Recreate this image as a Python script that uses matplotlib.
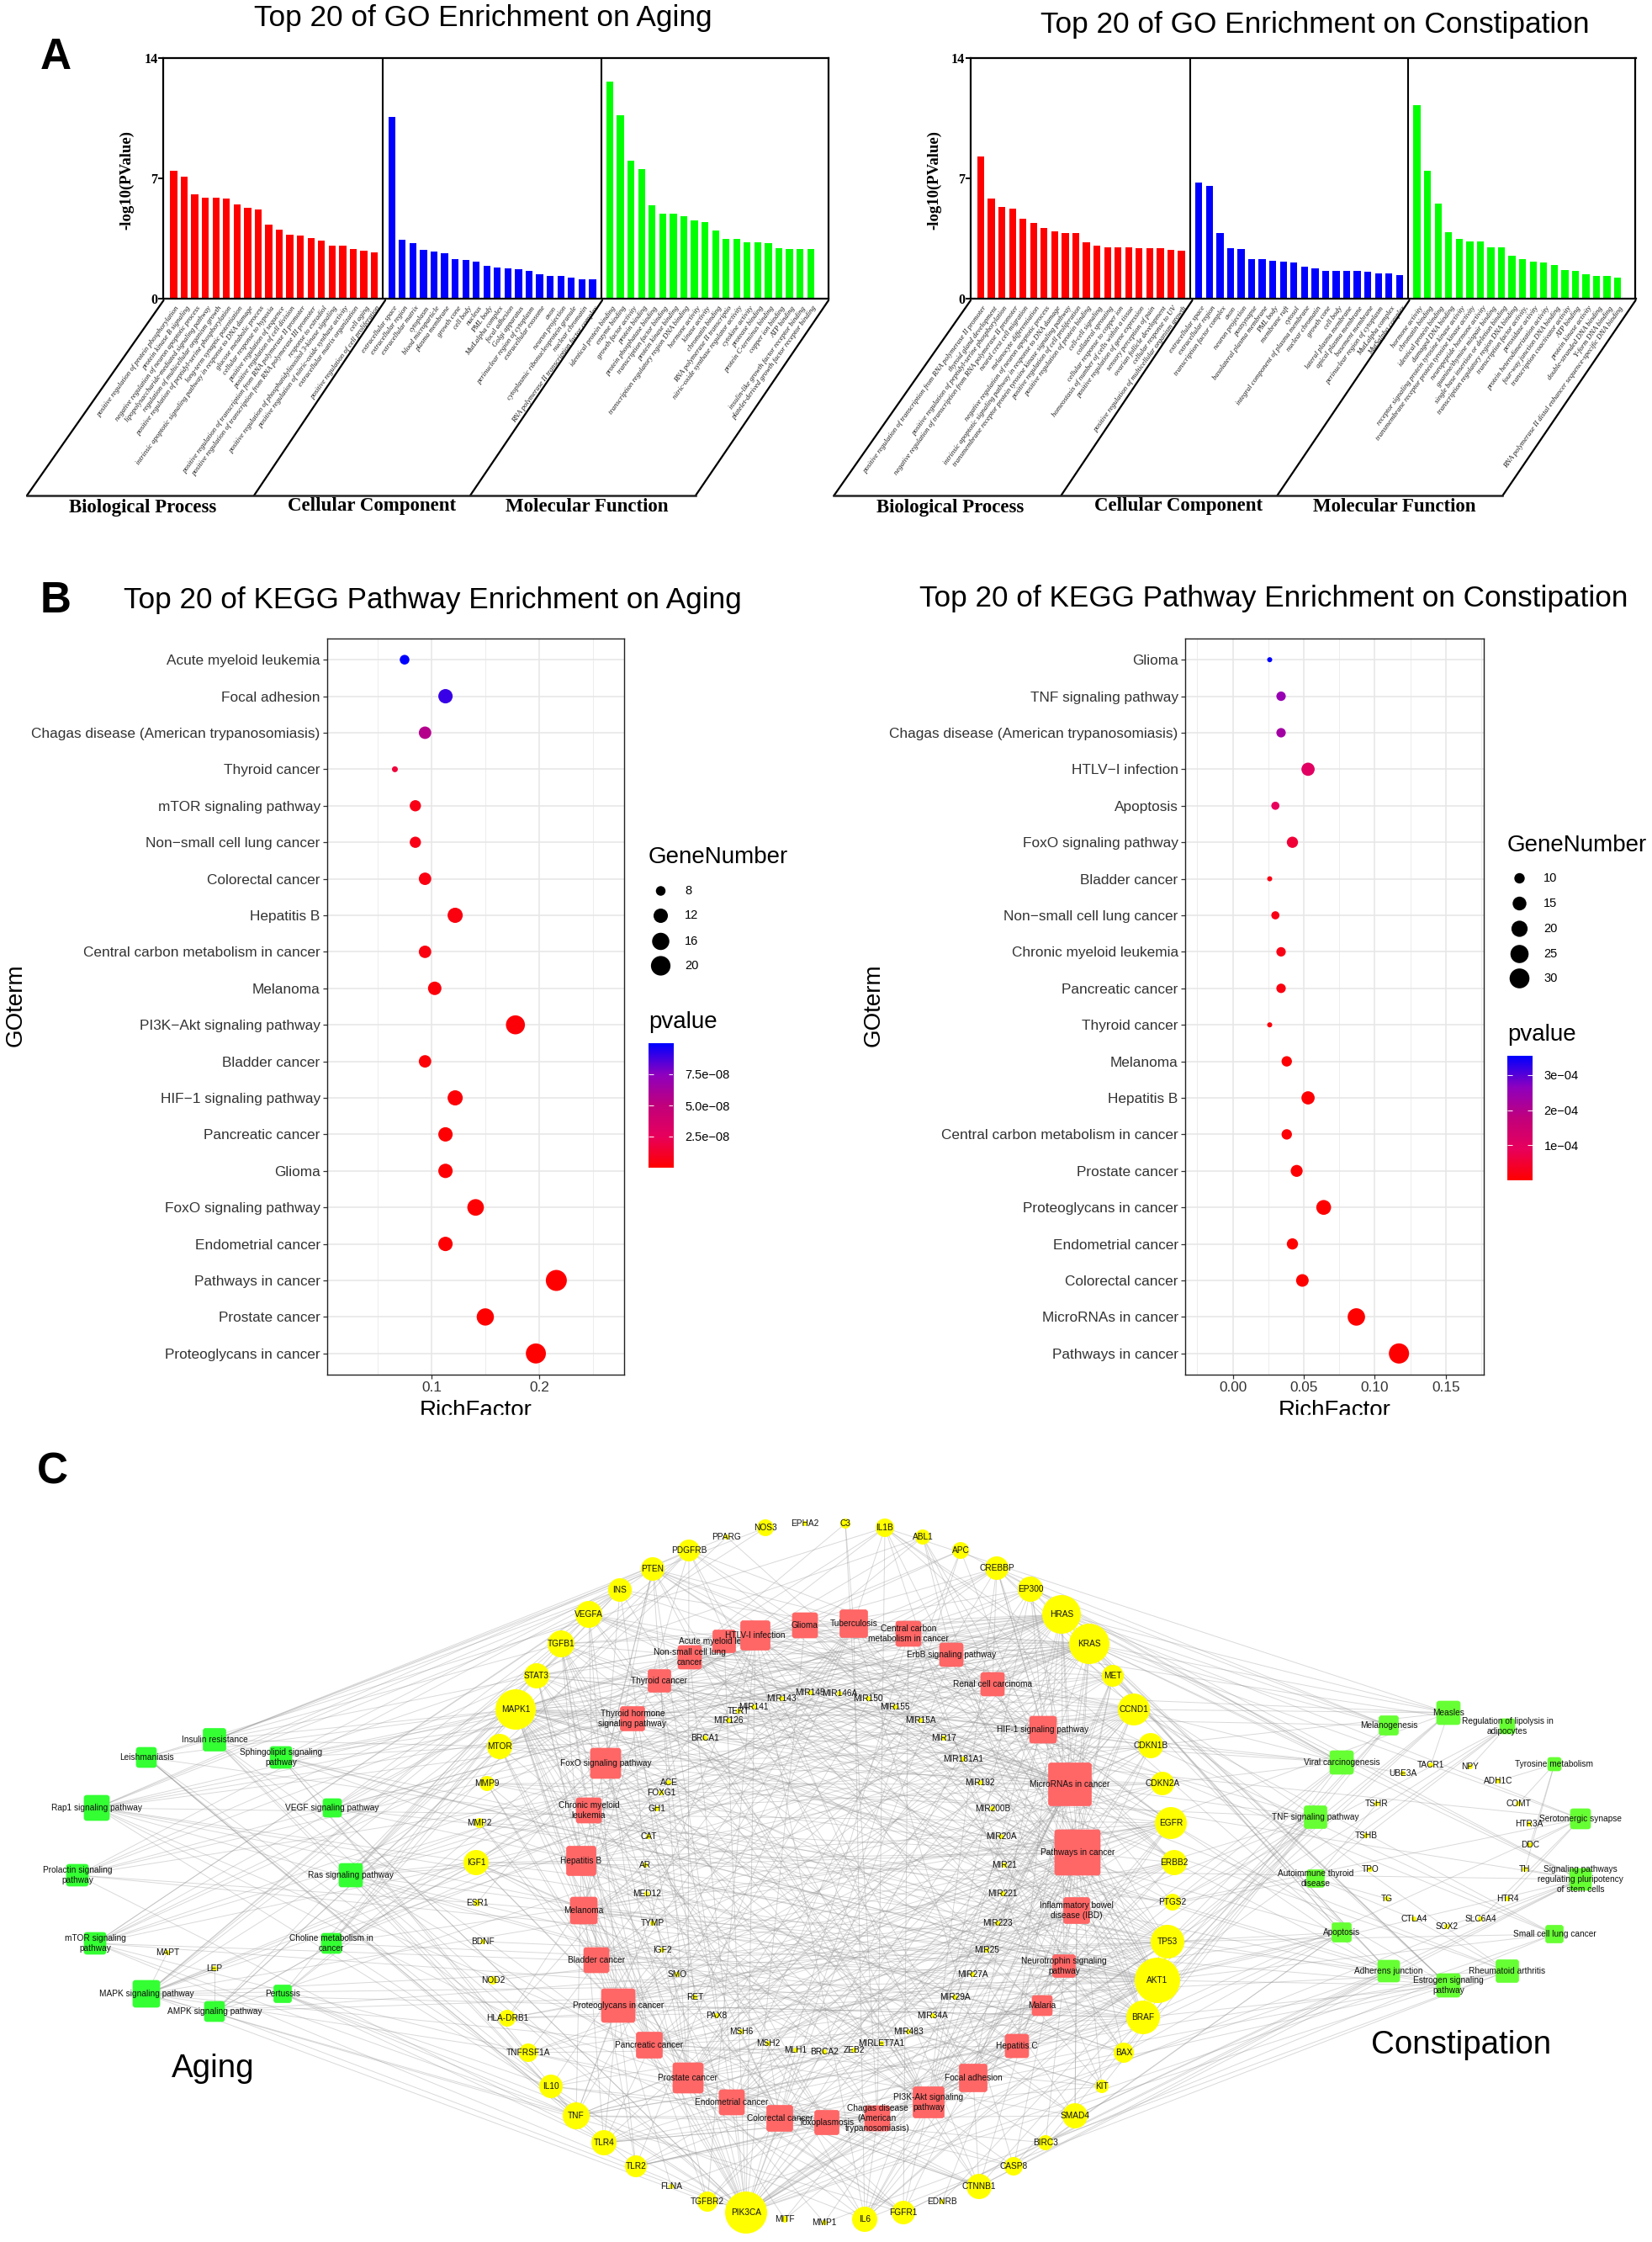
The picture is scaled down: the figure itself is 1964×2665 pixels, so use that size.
"""Enrichment figure: GO bars (A), KEGG dot plots (B) and the pathway-gene network (C)."""

import matplotlib

matplotlib.use("Agg")
import matplotlib.pyplot as plt
import numpy as np
from matplotlib.collections import LineCollection
from matplotlib.colors import LinearSegmentedColormap
from matplotlib.patches import Circle, FancyBboxPatch, Rectangle

W, H = 1965, 2665
SANS = "Liberation Sans"
SERIF = "Liberation Serif"

# ── A: GO bars ────────────────────────────────────────────────────────────────
GO_AGING_BP = [7.44, 7.1, 6.08, 5.88, 5.88, 5.82, 5.5, 5.28, 5.2, 4.32, 4.0, 3.72, 3.66, 3.52, 3.36, 3.1, 3.06, 2.88, 2.8, 2.7]
GO_AGING_CC = [10.56, 3.44, 3.24, 2.84, 2.72, 2.66, 2.28, 2.24, 2.16, 1.9, 1.8, 1.76, 1.7, 1.62, 1.4, 1.32, 1.3, 1.22, 1.14, 1.12]
GO_AGING_MF = [12.64, 10.68, 8.02, 7.54, 5.42, 4.96, 4.96, 4.82, 4.56, 4.46, 3.96, 3.5, 3.46, 3.28, 3.26, 3.24, 2.94, 2.9, 2.88, 2.88]
GO_CONST_BP = [8.26, 5.82, 5.34, 5.22, 4.66, 4.42, 4.12, 3.92, 3.8, 3.8, 3.28, 3.06, 3.0, 3.0, 2.98, 2.92, 2.92, 2.92, 2.86, 2.8]
GO_CONST_CC = [6.76, 6.58, 3.8, 2.92, 2.88, 2.28, 2.28, 2.2, 2.16, 2.1, 1.86, 1.74, 1.62, 1.6, 1.6, 1.6, 1.56, 1.48, 1.48, 1.36]
GO_CONST_MF = [11.28, 7.44, 5.52, 3.88, 3.48, 3.32, 3.32, 2.98, 2.98, 2.5, 2.28, 2.16, 2.1, 1.96, 1.68, 1.62, 1.44, 1.32, 1.3, 1.24]

GO_AGING_LABELS = [
    "positive regulation of protein phosphorylation", "protein kinase B signaling",
    "negative regulation of neuron apoptotic process", "lipopolysaccharide-mediated signaling pathway",
    "regulation of multicellular organism growth", "positive regulation of peptidyl-serine phosphorylation",
    "long-term synaptic potentiation", "intrinsic apoptotic signaling pathway in response to DNA damage",
    "glucose metabolic process", "cellular response to hypoxia", "positive regulation of sequence",
    "positive regulation of cell division", "positive regulation of transcription from RNA polymerase II promoter",
    "positive regulation of transcription from RNA polymerase III promoter", "response to estradiol",
    "positive regulation of phosphatidylinositol 3-kinase signaling",
    "positive regulation of nitric-oxide synthase activity", "extracellular matrix organization", "cell aging",
    "positive regulation of cell proliferation",
    "extracellular space", "extracellular region", "extracellular matrix", "cytoplasm", "blood microparticle",
    "plasma membrane", "growth cone", "cell body", "nucleus", "PML body", "MutLalpha complex", "focal adhesion",
    "Golgi apparatus", "perinuclear region of cytoplasm", "extracellular exosome", "axon", "neuron projection",
    "cytoplasmic ribonucleoprotein granule", "nuclear chromatin", "RNA polymerase II transcription factor complex",
    "identical protein binding", "enzyme binding", "growth factor activity", "protein binding",
    "protein phosphatase binding", "transcription factor binding", "protein kinase binding",
    "transcription regulatory region DNA binding", "hormone activity", "kinase activity", "chromatin binding",
    "RNA polymerase II transcriptio", "nitric-oxide synthase regulator activity", "cytokine activity",
    "protease binding", "protein C-terminus binding", "copper ion binding", "ATP binding",
    "insulin-like growth factor receptor binding", "platelet-derived growth factor receptor binding",
]
GO_CONST_LABELS = [
    "positive regulation of transcription from RNA polymerase II promoter", "thyroid gland development",
    "positive regulation of peptidyl-serine phosphorylation",
    "negative regulation of transcription from RNA polymerase II promoter", "neural crest cell migration",
    "melanocyte differentiation", "negative regulation of neuron apoptotic process",
    "intrinsic apoptotic signaling pathway in response to DNA damage",
    "transmembrane receptor protein tyrosine kinase signaling pathway", "positive regulation of cell proliferation",
    "positive regulation of protein binding", "cell-cell signaling", "collateral sprouting",
    "cellular response to copper ion", "homeostasis of number of cells within a tissue",
    "positive regulation of gene expression", "sensory perception of pain", "ovarian follicle development",
    "cellular response to UV", "positive regulation of multicellular organism growth",
    "extracellular space", "extracellular region", "transcription factor complex", "axon", "neuron projection",
    "postsynapse", "basolateral plasma membrane", "PML body", "membrane raft", "cytosol",
    "integral component of plasma membrane", "nuclear chromatin", "growth cone", "cell body",
    "lateral plasma membrane", "apical plasma membrane", "basement membrane", "perinuclear region of cytoplasm",
    "MutLalpha complex", "MutSalpha complex",
    "hormone activity", "chromatin binding", "identical protein binding", "damaged DNA binding",
    "receptor signaling protein tyrosine kinase activity", "transmembrane receptor protein tyrosine kinase activity",
    "neuropeptide hormone activity", "guanine/thymine mispair binding", "single base insertion or deletion binding",
    "transcription regulatory region DNA binding", "transcription factor activity,", "peroxidase activity",
    "protein heterodimerization activity", "four-way junction DNA binding", "transcription coactivator activity",
    "ATP binding", "protein kinase activity", "double-stranded DNA binding", "Y-form DNA binding",
    "RNA polymerase II distal enhancer sequence-specific DNA binding",
]
GO_GROUPS = ["Biological Process", "Cellular Component", "Molecular Function"]
GO_COLORS = ["#FF0000", "#0000FF", "#00FF00"]

# ── B: KEGG dots, listed top to bottom ────────────────────────────────────────
KEGG_AGING_TERMS = [
    "Acute myeloid leukemia", "Focal adhesion", "Chagas disease (American trypanosomiasis)", "Thyroid cancer",
    "mTOR signaling pathway", "Non\u2212small cell lung cancer", "Colorectal cancer", "Hepatitis B",
    "Central carbon metabolism in cancer", "Melanoma", "PI3K\u2212Akt signaling pathway", "Bladder cancer",
    "HIF\u22121 signaling pathway", "Pancreatic cancer", "Glioma", "FoxO signaling pathway", "Endometrial cancer",
    "Pathways in cancer", "Prostate cancer", "Proteoglycans in cancer",
]
KEGG_AGING_RICH = [0.075, 0.113, 0.094, 0.066, 0.085, 0.085, 0.094, 0.122, 0.094, 0.103, 0.178, 0.094, 0.122, 0.113, 0.113, 0.141, 0.113, 0.216, 0.150, 0.197]
KEGG_AGING_GENES = [8, 12, 10, 7, 9, 9, 10, 13, 10, 11, 19, 10, 13, 12, 12, 15, 12, 23, 16, 21]
KEGG_AGING_P = [1.0e-7, 9.0e-8, 5.6e-8, 1.6e-8, 6e-9, 6e-9, 5e-9, 4e-9, 4e-9, 3e-9, 2e-9, 2e-9, 2e-9, 1e-9, 1e-9, 1e-9, 1e-9, 5e-10, 5e-10, 2e-10]
KEGG_CONST_TERMS = [
    "Glioma", "TNF signaling pathway", "Chagas disease (American trypanosomiasis)", "HTLV\u2212I infection",
    "Apoptosis", "FoxO signaling pathway", "Bladder cancer", "Non\u2212small cell lung cancer",
    "Chronic myeloid leukemia", "Pancreatic cancer", "Thyroid cancer", "Melanoma", "Hepatitis B",
    "Central carbon metabolism in cancer", "Prostate cancer", "Proteoglycans in cancer", "Endometrial cancer",
    "Colorectal cancer", "MicroRNAs in cancer", "Pathways in cancer",
]
KEGG_CONST_RICH = [0.026, 0.034, 0.034, 0.053, 0.030, 0.042, 0.026, 0.030, 0.034, 0.034, 0.026, 0.038, 0.053, 0.038, 0.045, 0.064, 0.042, 0.049, 0.087, 0.117]
KEGG_CONST_GENES = [7, 9, 9, 14, 8, 11, 7, 8, 9, 9, 7, 10, 14, 10, 12, 17, 11, 13, 23, 31]
KEGG_CONST_P = [3.55e-4, 2.5e-4, 2.3e-4, 1.05e-4, 9e-5, 5.5e-5, 2e-5, 2e-5, 2e-5, 1.5e-5, 1e-5, 5e-6, 5e-6, 5e-6, 3e-6, 2e-6, 2e-6, 1e-6, 5e-7, 1e-7]

# ── C: network nodes (positions, in image pixels) ────────────────────────────
HUB_GENES = [
    "PPARG", "NOS3", "EPHA2", "C3", "IL1B", "ABL1", "APC", "CREBBP", "EP300", "HRAS", "KRAS", "MET", "CCND1", "CDKN1B",
    "CDKN2A", "EGFR", "ERBB2", "PTGS2", "TP53", "AKT1", "BRAF", "BAX", "KIT", "SMAD4", "BIRC3", "CASP8", "CTNNB1",
    "EDNRB", "FGFR1", "IL6", "MMP1", "MITF", "PIK3CA", "TGFBR2", "FLNA", "TLR2", "TLR4", "TNF", "IL10", "TNFRSF1A",
    "HLA-DRB1", "NOD2", "BDNF", "ESR1", "IGF1", "MMP2", "MMP9", "MTOR", "MAPK1", "STAT3", "TGFB1", "VEGFA", "INS",
    "PTEN", "PDGFRB",
]
HUB_X = [864, 910, 957, 1005, 1052, 1097, 1142, 1185, 1225, 1262, 1295, 1323, 1348, 1368, 1382, 1392, 1396, 1394, 1388, 1376, 1359, 1336, 1310, 1278, 1243, 1205, 1164, 1120, 1074, 1028, 980, 933, 887, 841, 798, 756, 718, 685, 655, 628, 603, 586, 574, 567, 566, 570, 579, 594, 613, 638, 667, 700, 737, 776, 819]
HUB_Y = [1827, 1816, 1811, 1811, 1816, 1827, 1843, 1864, 1889, 1919, 1954, 1992, 2032, 2075, 2120, 2167, 2214, 2261, 2308, 2354, 2398, 2440, 2480, 2515, 2547, 2575, 2599, 2617, 2630, 2638, 2642, 2638, 2630, 2617, 2599, 2575, 2547, 2515, 2480, 2440, 2399, 2354, 2308, 2262, 2214, 2167, 2120, 2076, 2032, 1992, 1954, 1919, 1890, 1865, 1843]
HUB_R = [3, 10, 3, 6, 11, 9, 10, 14, 15, 23, 24, 13, 19, 15, 14, 19, 15, 10, 20, 27, 20, 12, 8, 15, 9, 11, 15, 3, 14, 15, 3, 4, 25, 12, 3, 13, 15, 16, 14, 11, 10, 5, 3, 4, 15, 6, 9, 15, 24, 15, 16, 16, 14, 14, 13]

SMALL_GENES = [
    "ACE", "FOXG1", "GH1", "CAT", "AR", "MED12", "TYMP", "IGF2", "SMO", "RET", "PAX8", "MSH6", "MSH2", "MLH1", "BRCA2",
    "ZEB2", "MIRLET7A1", "MIR483", "MIR34A", "MIR29A", "MIR27A", "MIR25", "MIR223", "MIR221", "MIR21", "MIR20A",
    "MIR200B", "MIR192", "MIR181A1", "MIR17", "MIR15A", "MIR155", "MIR150", "MIR146A", "MIR145", "MIR143", "MIR141",
    "TERT", "MIR126", "BRCA1", "MAPT", "LEP", "UBE3A", "TACR1", "NPY", "ADH1C", "COMT", "HTR3A", "DDC", "TH", "HTR4",
    "SLC6A4", "SOX2", "CTLA4", "TG", "TPO", "TSHB", "TSHR",
]
SMALL_X = [795, 786, 781, 771, 767, 769, 776, 787, 805, 826, 852, 881, 913, 946, 980, 1015, 1048, 1080, 1109, 1135, 1156, 1173, 1186, 1192, 1194, 1190, 1180, 1165, 1145, 1122, 1094, 1064, 1032, 998, 963, 929, 896, 878, 866, 838, 199, 255, 1668, 1701, 1748, 1781, 1805, 1818, 1819, 1813, 1792, 1760, 1720, 1681, 1649, 1629, 1624, 1637]
SMALL_Y = [2119, 2131, 2150, 2183, 2217, 2251, 2286, 2318, 2347, 2374, 2396, 2415, 2429, 2437, 2439, 2437, 2429, 2415, 2396, 2374, 2347, 2318, 2286, 2251, 2217, 2183, 2150, 2119, 2091, 2066, 2045, 2029, 2019, 2013, 2012, 2019, 2029, 2034, 2045, 2066, 2321, 2340, 2108, 2098, 2100, 2117, 2144, 2168, 2193, 2222, 2257, 2281, 2290, 2281, 2257, 2222, 2182, 2144]

RED_PATHWAYS = [
    "Acute myeloid leukemia", "HTLV-I infection", "Glioma", "Tuberculosis", "Central carbon\nmetabolism in cancer",
    "ErbB signaling pathway", "Renal cell carcinoma", "HIF-1 signaling pathway", "MicroRNAs in cancer",
    "Pathways in cancer", "Inflammatory bowel\ndisease (IBD)", "Neurotrophin signaling\npathway", "Malaria",
    "Hepatitis C", "Focal adhesion", "PI3K-Akt signaling\npathway", "Chagas disease\n(American\ntrypanosomiasis)",
    "Toxoplasmosis", "Colorectal cancer", "Endometrial cancer", "Prostate cancer", "Pancreatic cancer",
    "Proteoglycans in cancer", "Bladder cancer", "Melanoma", "Hepatitis B", "Chronic myeloid\nleukemia",
    "FoxO signaling pathway", "Thyroid hormone\nsignaling pathway", "Thyroid cancer", "Non-small cell lung\ncancer",
]
RED_X = [861, 898, 957, 1015, 1080, 1131, 1180, 1240, 1272, 1281, 1280, 1265, 1239, 1209, 1157, 1104, 1043, 983, 927, 870, 818, 772, 735, 709, 694, 691, 700, 720, 752, 784, 820]
RED_Y = [1951, 1944, 1932, 1930, 1942, 1967, 2002, 2056, 2121, 2202, 2271, 2337, 2384, 2432, 2470, 2499, 2518, 2523, 2518, 2499, 2470, 2431, 2384, 2330, 2271, 2212, 2152, 2096, 2043, 1998, 1970]
RED_SIDE = [27, 35, 30, 33, 30, 28, 28, 32, 51, 54, 31, 27, 24, 28, 33, 37, 30, 29, 31, 30, 36, 31, 40, 30, 32, 35, 30, 36, 29, 27, 28]

LEFT_PATHWAYS = [
    "Insulin resistance", "Leishmaniasis", "Sphingolipid signaling\npathway", "Rap1 signaling pathway",
    "VEGF signaling pathway", "Prolactin signaling\npathway", "Ras signaling pathway", "mTOR signaling\npathway",
    "Choline metabolism in\ncancer", "MAPK signaling pathway", "Pertussis", "AMPK signaling pathway",
]
LEFT_X = [255, 174, 334, 115, 395, 92, 417, 113, 394, 174, 336, 255]
LEFT_Y = [2068, 2089, 2089, 2149, 2149, 2229, 2229, 2310, 2310, 2370, 2370, 2391]
LEFT_SIDE = [27, 24, 26, 30, 22, 26, 28, 26, 24, 32, 21, 24]

RIGHT_PATHWAYS = [
    "Measles", "Melanogenesis", "Regulation of lipolysis in\nadipocytes", "Viral carcinogenesis", "Tyrosine metabolism",
    "TNF signaling pathway", "Serotonergic synapse", "Autoimmune thyroid\ndisease",
    "Signaling pathways\nregulating pluripotency\nof stem cells", "Apoptosis", "Small cell lung cancer",
    "Adherens junction", "Rheumatoid arthritis", "Estrogen signaling\npathway",
]
RIGHT_X = [1722, 1651, 1792, 1595, 1848, 1564, 1879, 1564, 1879, 1595, 1848, 1651, 1792, 1722]
RIGHT_Y = [2036, 2051, 2052, 2095, 2097, 2160, 2162, 2233, 2234, 2297, 2299, 2343, 2343, 2360]
RIGHT_SIDE = [28, 23, 18, 28, 16, 27, 24, 21, 26, 23, 21, 26, 27, 28]

# estimated membership: the single edges can't be followed through the hairball
PATHWAY_GENES = {
    "Acute myeloid leukemia": "AKT1 BRAF CCND1 HRAS KRAS KIT MAPK1 MTOR PIK3CA STAT3",
    "HTLV-I infection": "AKT1 APC BAX CCND1 CDKN2A CREBBP EP300 HLA-DRB1 IL6 KRAS HRAS MAPK1 MTOR PIK3CA PTEN SMAD4 STAT3 TGFB1 TGFBR2 TNF TP53 TERT CTNNB1",
    "Glioma": "AKT1 BRAF CCND1 CDKN2A EGFR HRAS IGF1 KRAS MAPK1 MTOR PDGFRB PIK3CA PTEN TP53",
    "Tuberculosis": "AKT1 BAX CASP8 C3 HLA-DRB1 IL10 IL1B IL6 MAPK1 TGFB1 TLR2 TLR4 TNF TNFRSF1A",
    "Central carbon metabolism in cancer": "AKT1 EGFR ERBB2 FGFR1 HRAS KIT KRAS MET MTOR PDGFRB PIK3CA PTEN RET TP53",
    "ErbB signaling pathway": "ABL1 AKT1 BRAF CDKN1B EGFR ERBB2 HRAS KRAS MAPK1 MTOR PIK3CA",
    "Renal cell carcinoma": "AKT1 BRAF CREBBP EP300 HRAS KRAS MAPK1 MET PIK3CA TGFB1 VEGFA",
    "HIF-1 signaling pathway": "AKT1 CDKN1B CREBBP EGFR EP300 ERBB2 IGF1 IL6 INS MAPK1 MTOR PIK3CA STAT3 TLR4 VEGFA",
    "MicroRNAs in cancer": "BRAF CCND1 CDKN1B CDKN2A CREBBP EGFR EP300 ERBB2 HRAS KRAS MET MTOR PIK3CA PTEN PTGS2 TP53 VEGFA MIR126 MIR141 MIR143 MIR145 MIR146A MIR150 MIR155 MIR15A MIR17 MIR181A1 MIR192 MIR200B MIR20A MIR21 MIR221 MIR223 MIR25 MIR27A MIR29A MIR34A MIRLET7A1 BRCA1 ABL1 MMP9",
    "Pathways in cancer": "ABL1 AKT1 APC AR BAX BIRC3 BRAF BRCA2 CASP8 CCND1 CDKN1B CDKN2A CREBBP CTNNB1 EDNRB EGFR EP300 ERBB2 FGFR1 HRAS IGF1 IGF2 IL6 KIT KRAS MAPK1 MET MITF MLH1 MMP1 MMP2 MMP9 MSH2 MSH6 MTOR PDGFRB PIK3CA PPARG PTEN PTGS2 RET SMAD4 SMO STAT3 TERT TGFB1 TGFBR2 TP53 VEGFA ZEB2",
    "Inflammatory bowel disease (IBD)": "HLA-DRB1 IL10 IL1B IL6 NOD2 STAT3 TGFB1 TLR2 TLR4 TNF SMAD4",
    "Neurotrophin signaling pathway": "ABL1 AKT1 BAX BDNF BRAF HRAS KRAS MAPK1 PIK3CA TP53",
    "Malaria": "HLA-DRB1 IL10 IL1B IL6 MET TGFB1 TLR2 TLR4 TNF",
    "Hepatitis C": "AKT1 BRAF CDKN1B EGFR HRAS KRAS MAPK1 PIK3CA STAT3 TNF TP53 TNFRSF1A",
    "Focal adhesion": "AKT1 BRAF CCND1 CTNNB1 EGFR ERBB2 FLNA HRAS IGF1 MAPK1 MET PDGFRB PIK3CA PTEN VEGFA",
    "PI3K-Akt signaling pathway": "AKT1 BRCA1 CCND1 CDKN1B CREBBP EGFR EP300 ERBB2 FGFR1 GH1 HRAS IGF1 IGF2 IL6 INS KIT KRAS MAPK1 MET MTOR PDGFRB PIK3CA PTEN TLR2 TLR4 TP53 VEGFA",
    "Chagas disease (American trypanosomiasis)": "AKT1 C3 CASP8 IL10 IL6 MAPK1 PIK3CA TGFB1 TLR2 TLR4 TNF IL1B TNFRSF1A",
    "Toxoplasmosis": "AKT1 BIRC3 CASP8 HLA-DRB1 IL10 MAPK1 PIK3CA STAT3 TGFB1 TLR2 TLR4 TNF TNFRSF1A",
    "Colorectal cancer": "AKT1 APC BAX BRAF CCND1 CTNNB1 KRAS MAPK1 MLH1 MSH2 MSH6 PIK3CA SMAD4 TGFB1 TGFBR2 TP53",
    "Endometrial cancer": "AKT1 APC BRAF CCND1 CTNNB1 EGFR ERBB2 HRAS KRAS MAPK1 PIK3CA PTEN TP53 MLH1",
    "Prostate cancer": "AKT1 AR BRAF CCND1 CDKN1B CREBBP CTNNB1 EGFR EP300 ERBB2 FGFR1 HRAS IGF1 INS KRAS MAPK1 MTOR PDGFRB PIK3CA PTEN TP53",
    "Pancreatic cancer": "AKT1 BRAF BRCA2 CCND1 CDKN2A EGFR ERBB2 KRAS MAPK1 MTOR PIK3CA SMAD4 STAT3 TGFB1 TGFBR2 TP53 VEGFA",
    "Proteoglycans in cancer": "AKT1 BRAF CCND1 CDKN1B CTNNB1 EGFR ERBB2 FGFR1 FLNA HRAS IGF1 IGF2 KRAS MAPK1 MET MMP2 MMP9 MTOR PIK3CA STAT3 TGFB1 TLR2 TLR4 TNF TP53 VEGFA",
    "Bladder cancer": "BRAF CCND1 CDKN2A EGFR ERBB2 HRAS KRAS MAPK1 MMP1 MMP2 MMP9 TP53 VEGFA",
    "Melanoma": "AKT1 BRAF CCND1 CDKN2A EGFR FGFR1 HRAS IGF1 KRAS MAPK1 MET MITF PDGFRB PIK3CA PTEN TP53",
    "Hepatitis B": "AKT1 BAX BIRC3 CASP8 CCND1 CDKN1B CREBBP EP300 HRAS IL6 KRAS MAPK1 MMP9 PIK3CA PTEN STAT3 TGFB1 TLR2 TLR4 TNF TP53",
    "Chronic myeloid leukemia": "ABL1 AKT1 BRAF CCND1 CDKN1B CDKN2A HRAS KRAS MAPK1 PIK3CA SMAD4 TGFB1 TP53",
    "FoxO signaling pathway": "AKT1 BRAF CCND1 CDKN1B CDKN2A CREBBP EGFR EP300 HRAS IGF1 IL6 INS KRAS MAPK1 PIK3CA PTEN SMAD4 STAT3 TGFB1 TGFBR2",
    "Thyroid hormone signaling pathway": "AKT1 CCND1 CREBBP EP300 HRAS KRAS MAPK1 MED12 MTOR PIK3CA TP53 ESR1 CTNNB1",
    "Thyroid cancer": "BRAF CCND1 CDKN1B CTNNB1 HRAS KRAS MAPK1 PAX8 RET TP53 TERT",
    "Non-small cell lung cancer": "AKT1 BRAF CCND1 CDKN2A EGFR ERBB2 HRAS KRAS MAPK1 MET PIK3CA STAT3 TP53",
    # aging-only ring on the left
    "Insulin resistance": "AKT1 INS MAPK1 MTOR PIK3CA PTEN STAT3 TNF IL6 TNFRSF1A NOS3 PPARG",
    "Leishmaniasis": "HLA-DRB1 IL10 IL1B MAPK1 PTGS2 TGFB1 TLR2 TLR4 TNF",
    "Sphingolipid signaling pathway": "ABL1 AKT1 BAX HRAS KRAS MAPK1 MTOR PIK3CA PTEN TNF TP53 TNFRSF1A",
    "Rap1 signaling pathway": "AKT1 BRAF CTNNB1 EGFR FGFR1 HRAS IGF1 INS KIT KRAS MAPK1 MET PDGFRB PIK3CA VEGFA",
    "VEGF signaling pathway": "AKT1 HRAS KRAS MAPK1 NOS3 PIK3CA PTGS2 VEGFA",
    "Prolactin signaling pathway": "AKT1 CCND1 ESR1 HRAS INS KRAS MAPK1 PIK3CA STAT3",
    "Ras signaling pathway": "ABL1 AKT1 EGFR FGFR1 HRAS IGF1 INS KIT KRAS MAPK1 MET PDGFRB PIK3CA VEGFA BAX TNF",
    "mTOR signaling pathway": "AKT1 APC BRAF HRAS IGF1 INS KRAS MAPK1 MTOR PIK3CA PTEN TNF TNFRSF1A",
    "Choline metabolism in cancer": "AKT1 EGFR HRAS KRAS MAPK1 MTOR PDGFRB PIK3CA",
    "MAPK signaling pathway": "AKT1 BRAF EGFR FGFR1 HRAS IGF1 IL1B INS KIT KRAS MAPK1 MAPT MET PDGFRB TGFB1 TGFBR2 TNF TP53 TNFRSF1A LEP",
    "Pertussis": "C3 IL10 IL1B IL6 MAPK1 TLR4 TNF",
    "AMPK signaling pathway": "AKT1 CCND1 CREBBP IGF1 INS LEP MTOR PIK3CA PPARG TP53",
    # constipation-only ring on the right
    "Measles": "AKT1 CCND1 CDKN1B HRAS IL1B IL6 KRAS STAT3 TNFRSF1A TP53 TACR1",
    "Melanogenesis": "CREBBP CTNNB1 EP300 HRAS KIT KRAS MAPK1 MITF EDNRB",
    "Regulation of lipolysis in adipocytes": "AKT1 INS PIK3CA PTGS2 NPY TSHB",
    "Viral carcinogenesis": "CCND1 CDKN1B CDKN2A CREBBP EP300 HRAS KRAS MAPK1 PIK3CA STAT3 TP53 UBE3A BAX",
    "Tyrosine metabolism": "ADH1C COMT DDC TH",
    "TNF signaling pathway": "AKT1 BIRC3 CASP8 IL1B IL6 MAPK1 MMP9 PIK3CA PTGS2 TNF TNFRSF1A VEGFA",
    "Serotonergic synapse": "BRAF DDC HRAS HTR3A HTR4 KRAS MAPK1 PTGS2 SLC6A4",
    "Autoimmune thyroid disease": "CTLA4 HLA-DRB1 TG TPO TSHB TSHR",
    "Signaling pathways regulating pluripotency of stem cells": "AKT1 APC CTNNB1 FGFR1 HRAS IGF1 KRAS MAPK1 PIK3CA SMAD4 SOX2 TH",
    "Apoptosis": "AKT1 BAX BIRC3 CASP8 HRAS IL1B KRAS MAPK1 PIK3CA TNF TNFRSF1A TP53",
    "Small cell lung cancer": "AKT1 BIRC3 CDKN1B CCND1 PIK3CA PTEN TP53",
    "Adherens junction": "CREBBP CTNNB1 EGFR EP300 ERBB2 FGFR1 IGF1 MAPK1 MET SMAD4 TGFBR2",
    "Rheumatoid arthritis": "CTLA4 HLA-DRB1 IL1B IL6 MMP1 TGFB1 TLR2 TLR4 TNF VEGFA",
    "Estrogen signaling pathway": "AKT1 BRAF CREBBP EGFR EP300 ESR1 HRAS KRAS MAPK1 MMP2 MMP9 PIK3CA",
}


def px_axes(fig, x0, y0, x1, y1):
    """Axes placed by image pixels, with y counted from the top."""
    return fig.add_axes([x0 / W, 1 - y1 / H, (x1 - x0) / W, (y1 - y0) / H])


def draw_go(fig, canvas, dx, title, title_xy, series, labels, group_x):
    ax = px_axes(fig, 194.5 + dx, 69, 985 + dx, 355)
    ax.patch.set_alpha(0)
    positions = []
    for g, (vals, color) in enumerate(zip(series, GO_COLORS)):
        pos = np.arange(len(vals)) + g * 20.65
        ax.bar(pos, vals, width=0.66, color=color, linewidth=0)
        positions.extend(pos)
    ax.set_xlim(-0.955, 62)
    ax.set_ylim(0, 14)
    ax.axvline(19.81, color="black", lw=1.5)
    ax.axvline(40.47, color="black", lw=1.5)
    for s in ax.spines.values():
        s.set_linewidth(1.6)
    ax.set_xticks([])
    ax.set_yticks([0, 7, 14])
    ax.tick_params(axis="y", length=4, width=1.4, pad=1)
    for t in ax.get_yticklabels():
        t.set_fontfamily(SERIF)
        t.set_fontweight("bold")
        t.set_fontsize(11.5)
    for x, label in zip(positions, labels):
        ax.annotate(label, xy=(x, 0), xycoords=("data", "axes fraction"), xytext=(4, -7),
                    textcoords="offset points", rotation=54, rotation_mode="anchor", ha="right", va="center",
                    fontsize=6.3, fontstyle="italic", family=SERIF, color="#1A1A1A")

    tops = [194.5, 458, 716, 985]
    bottoms = [32, 302, 559, 827]
    for top, bot in zip(tops, bottoms):
        canvas.plot([top + dx, bot + dx], [357, 589], color="black", lw=1.6, solid_capstyle="round")
    canvas.plot([32 + dx, 827 + dx], [589, 589], color="#222222", lw=1.8)
    for name, gx, gy in zip(GO_GROUPS, group_x, [604, 602, 603]):
        canvas.text(gx + dx, gy, name, ha="center", va="center", family=SERIF, fontweight="bold", fontsize=16.5)
    canvas.text(151 + dx, 214, "-log10(PValue)", rotation=90, ha="center", va="center", family=SERIF,
                fontweight="bold", fontsize=13.5)
    canvas.text(title_xy[0], title_xy[1], title, ha="center", va="center", family=SANS, fontsize=25.4)


def dot_diameter(n, genes, dmin, dmax):
    # area-style size scale, same shape as the ggplot legend
    lo, hi = min(genes), max(genes)
    return dmin + np.sqrt((np.asarray(n, dtype=float) - lo) / (hi - lo)) * (dmax - dmin)


def draw_kegg(fig, canvas, panel, title, title_xy, terms, rich, genes, pvals, xlim, xticks, xticklabels, xminor,
              size_range, legend_x, legend_sizes, legend_y, title_y, pvalue_y, bar_box, pmax, bar_ticks, bar_labels,
              ylabel_x, xlabel_x):
    ax = px_axes(fig, panel[0], 759, panel[1], 1634)
    y = np.arange(len(terms))
    ax.set_axisbelow(True)
    ax.set_xlim(*xlim)
    ax.set_ylim(len(terms) - 1 + 0.58, -0.58)
    ax.set_xticks(xticks)
    ax.set_xticklabels(xticklabels)
    ax.set_xticks(xminor, minor=True)
    ax.set_yticks(y)
    ax.set_yticklabels(terms)
    ax.grid(which="major", color="#E6E6E6", lw=1.1)
    ax.grid(which="minor", axis="x", color="#EDEDED", lw=0.7)
    ax.tick_params(which="minor", length=0)
    ax.tick_params(which="major", length=3.4, width=0.9, color="#333333", labelsize=12.4, labelcolor="#333333", pad=2.6)
    for t in ax.get_xticklabels() + ax.get_yticklabels():
        t.set_fontfamily(SANS)
    for s in ax.spines.values():
        s.set_linewidth(1.0)
        s.set_color("#222222")
    d = dot_diameter(genes, genes, *size_range)
    ax.scatter(rich, y, s=(d * 0.72) ** 2, c=pvals, cmap=P_CMAP, vmin=0, vmax=pmax, linewidths=0, zorder=3)

    canvas.text(title_xy[0], title_xy[1], title, ha="center", va="center", family=SANS, fontsize=25.3)
    canvas.text(ylabel_x, 1195, "GOterm", rotation=90, ha="center", va="center", family=SANS, fontsize=20)
    # the reference crops this label along its lower edge
    canvas.text(xlabel_x, 1677, "RichFactor", ha="center", va="center", family=SANS, fontsize=20)
    canvas.add_patch(Rectangle((xlabel_x - 90, 1682), 180, 18, color="white", zorder=5))

    # size legend
    canvas.text(legend_x, title_y, "GeneNumber", ha="left", va="center", family=SANS, fontsize=20)
    leg_d = dot_diameter(legend_sizes, genes, *size_range)
    canvas.scatter([legend_x + 14.5] * len(legend_sizes), legend_y, s=(leg_d * 0.72) ** 2, color="black", linewidths=0)
    for n, ly in zip(legend_sizes, legend_y):
        canvas.text(legend_x + 43, ly, str(n), ha="left", va="center", family=SANS, fontsize=10.5)

    # colour legend
    canvas.text(legend_x, pvalue_y, "pvalue", ha="left", va="center", family=SANS, fontsize=20)
    cax = px_axes(fig, *bar_box)
    grad = np.linspace(0, 1, 256).reshape(-1, 1)
    cax.imshow(grad, origin="lower", aspect="auto", cmap=P_CMAP, extent=[0, 1, 0, pmax])
    cax.hlines(bar_ticks, 0, 0.2, color="white", lw=0.7)
    cax.hlines(bar_ticks, 0.8, 1, color="white", lw=0.7)
    cax.set_xticks([])
    cax.yaxis.tick_right()
    cax.set_yticks(bar_ticks)
    cax.set_yticklabels(bar_labels, family=SANS, fontsize=10.5)
    cax.tick_params(axis="y", length=0, pad=10)
    for s in cax.spines.values():
        s.set_visible(False)


P_CMAP = LinearSegmentedColormap.from_list(
    "pvalue", ["#FF0000", "#E8005C", "#C1007C", "#8E00BF", "#0000FF"])


def draw_network(canvas):
    node_xy = {}
    for names, xs, ys in [(HUB_GENES, HUB_X, HUB_Y), (SMALL_GENES, SMALL_X, SMALL_Y), (RED_PATHWAYS, RED_X, RED_Y),
                          (LEFT_PATHWAYS, LEFT_X, LEFT_Y), (RIGHT_PATHWAYS, RIGHT_X, RIGHT_Y)]:
        for name, x, y in zip(names, xs, ys):
            node_xy[name.replace("\n", " ")] = (x, y)

    segs = []
    for pathway, members in PATHWAY_GENES.items():
        for gene in members.split():
            segs.append([node_xy[pathway], node_xy[gene]])
    canvas.add_collection(LineCollection(segs, colors="#969696", linewidths=0.7, alpha=0.36, zorder=1))

    label_kw = dict(ha="center", va="center", family=SANS, fontsize=7.3, color="#111111", linespacing=1.25)
    for name, x, y, r in zip(HUB_GENES, HUB_X, HUB_Y, HUB_R):
        canvas.add_patch(Circle((x, y), r, color="#FFFF00", lw=0, zorder=2))
        canvas.text(x, y, name, zorder=4, **label_kw)
    for name, x, y in zip(SMALL_GENES, SMALL_X, SMALL_Y):
        canvas.add_patch(Circle((x, y), 3, color="#FFFF00", lw=0, zorder=2))
        canvas.text(x, y, name, zorder=4, **label_kw)
    for names, xs, ys, sides, color in [(RED_PATHWAYS, RED_X, RED_Y, RED_SIDE, "#FF6666"),
                                        (LEFT_PATHWAYS, LEFT_X, LEFT_Y, LEFT_SIDE, "#33FF33"),
                                        (RIGHT_PATHWAYS, RIGHT_X, RIGHT_Y, RIGHT_SIDE, "#66FF33")]:
        for name, x, y, side in zip(names, xs, ys, sides):
            # the HTLV box hides the end of its neighbour's label
            box_z = 3 if name == "HTLV-I infection" else 2
            canvas.add_patch(FancyBboxPatch((x - side / 2, y - side / 2), side, side,
                                            boxstyle="round,pad=0,rounding_size=3", fc=color, ec=color, lw=0.5,
                                            zorder=box_z))
            text_z = 2.5 if name == "Acute myeloid leukemia" else 4
            canvas.text(x, y, name, zorder=text_z, **label_kw)

    canvas.text(253, 2459, "Aging", ha="center", va="center", family=SANS, fontsize=27.7)
    canvas.text(1737, 2431, "Constipation", ha="center", va="center", family=SANS, fontsize=27.7)


def main():
    fig = plt.figure(figsize=(W / 100, H / 100), dpi=100, facecolor="white")
    canvas = fig.add_axes([0, 0, 1, 1], zorder=5)
    canvas.set_xlim(0, W)
    canvas.set_ylim(H, 0)
    canvas.axis("off")
    canvas.patch.set_alpha(0)

    draw_go(fig, canvas, 0, "Top 20 of GO Enrichment on Aging", (574, 21),
            [GO_AGING_BP, GO_AGING_CC, GO_AGING_MF], GO_AGING_LABELS, [170, 442, 698])
    draw_go(fig, canvas, 959.5, "Top 20 of GO Enrichment on Constipation", (1563, 29),
            [GO_CONST_BP, GO_CONST_CC, GO_CONST_MF], GO_CONST_LABELS, [170, 442, 698])

    draw_kegg(fig, canvas, (389, 742), "Top 20 of KEGG Pathway Enrichment on Aging", (514.5, 713),
              KEGG_AGING_TERMS, KEGG_AGING_RICH, KEGG_AGING_GENES, KEGG_AGING_P, (0.0031, 0.279), [0.1, 0.2],
              ["0.1", "0.2"], [0.05, 0.15, 0.25], (7, 25), 771, [8, 12, 16, 20], [1059, 1088.5, 1119, 1148], 1019, 1215,
              (771, 1240, 800.5, 1388), 1.0e-7, [2.5e-8, 5e-8, 7.5e-8], ["2.5e\u221208", "5.0e\u221208", "7.5e\u221208"],
              19, 566)
    draw_kegg(fig, canvas, (1409, 1763.5), "Top 20 of KEGG Pathway Enrichment on Constipation", (1514, 711),
              KEGG_CONST_TERMS, KEGG_CONST_RICH, KEGG_CONST_GENES, KEGG_CONST_P, (-0.0335, 0.1764),
              [0, 0.05, 0.10, 0.15], ["0.00", "0.05", "0.10", "0.15"], [-0.025, 0.025, 0.075, 0.125, 0.175], (6, 24),
              1792, [10, 15, 20, 25, 30], [1044, 1074, 1104, 1134, 1163], 1004.5, 1230, (1792, 1255, 1821.6, 1403),
              3.55e-4, [1e-4, 2e-4, 3e-4], ["1e\u221204", "2e\u221204", "3e\u221204"], 1039, 1587)

    draw_network(canvas)

    for letter, x, y in [("A", 66, 68), ("B", 66, 715), ("C", 62, 1750)]:
        canvas.text(x, y, letter, ha="center", va="center", family=SANS, fontweight="bold", fontsize=37)

    fig.savefig("out.png", dpi=100, facecolor="white")
    plt.close(fig)


if __name__ == "__main__":
    main()
